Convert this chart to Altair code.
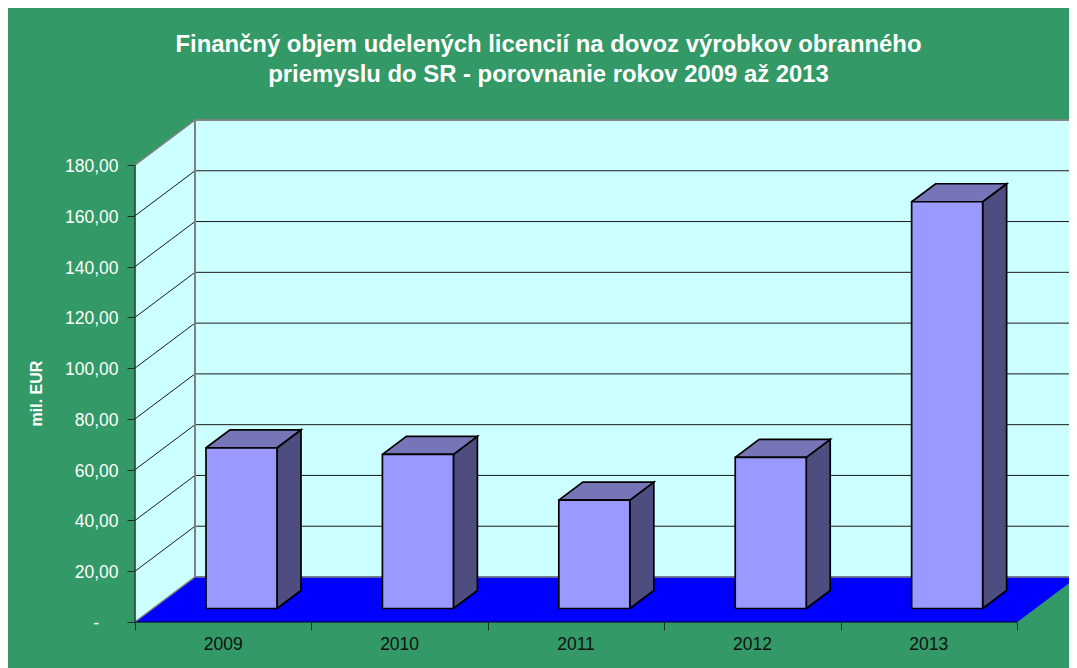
import altair as alt
import pandas as pd

years = ["2009", "2010", "2011", "2012", "2013"]
values = [63.3, 60.7, 42.7, 59.5, 160.2]
tick_values = [0, 20, 40, 60, 80, 100, 120, 140, 160, 180]
title_lines = ["Finančný objem udelených licencií na dovoz výrobkov obranného",
               "priemyslu do SR - porovnanie rokov 2009 až 2013"]
axis_title = "mil. EUR"

# Oblique projection of the 3D box, in data units
WALL_DX, WALL_DY = 0.34, 17.72
BAR_DX, BAR_DY = 0.136, 7.09
BAR_X0, BAR_W, BAR_BASE = 0.4025, 0.4025, 5.32
N = len(years)
X_END = N + WALL_DX - 0.0454   # the page cuts the last few pixels of the wall

x_scale = alt.Scale(domain=[0, X_END], nice=False, zero=False)
y_scale = alt.Scale(domain=[0, 180 + WALL_DY], nice=False, zero=False)
X = alt.X("x:Q", scale=x_scale, axis=alt.Axis(
    values=list(range(N + 1)), labels=False, title=None, domain=False, grid=False,
    tickColor="#103020", tickSize=8, tickWidth=1))
Y = alt.Y("y:Q", scale=y_scale, axis=alt.Axis(
    values=tick_values, title=axis_title, domain=False, grid=False,
    tickColor="#103020", tickSize=8, tickWidth=1,
    labelColor="white", labelFont="Liberation Sans", labelFontSize=17.5, labelPadding=9, labelOffset=1.5,
    labelExpr="datum.value == 0 ? '-\u00a0\u00a0\u00a0\u00a0\u200b' : replace(format(datum.value, '.2f'), '.', ',')",
    titleColor="white", titleFont="Liberation Sans", titleFontSize=16, titleFontWeight="bold",
    titleX=-91, titleY=273, titleAngle=270))


def poly(key, pts):
    return [dict(key=key, o=i, x=a, y=b) for i, (a, b) in enumerate(list(pts) + [pts[0]])]


def shape(rows, fill, stroke, sw):
    return alt.Chart(pd.DataFrame(rows)).mark_line(
        fill=fill, stroke=stroke, strokeWidth=sw, interpolate="linear", strokeJoin="miter"
    ).encode(x=X, y=Y, detail="key:N", order="o:Q")


def lines(rows, color, sw):
    return alt.Chart(pd.DataFrame(rows)).mark_line(
        color=color, strokeWidth=sw, interpolate="linear"
    ).encode(x=X, y=Y, detail="key:N", order="o:Q")


back_wall = shape(poly("w", [(WALL_DX, WALL_DY), (N + WALL_DX, WALL_DY),
                             (N + WALL_DX, 180 + WALL_DY), (WALL_DX, 180 + WALL_DY)]),
                  "#CCFFFF", "#808080", 1.5)
side_wall = shape(poly("s", [(0, 0), (WALL_DX, WALL_DY), (WALL_DX, 180 + WALL_DY), (0, 180)]),
                  "#CCFFFF", "#808080", 1)
floor = shape(poly("f", [(0, 0), (N, 0), (N + WALL_DX, WALL_DY), (WALL_DX, WALL_DY)]),
              "#0000FF", "#0000FF", 0.5)

grid_rows, edge_rows = [], []
for t in tick_values:
    pts = [(0, t), (WALL_DX, t + WALL_DY), (N + WALL_DX, t + WALL_DY)]
    target = edge_rows if t in (0, 180) else grid_rows
    target += [dict(key=t, o=i, x=a, y=b) for i, (a, b) in enumerate(pts)]
grid = lines(grid_rows, "#1a1a1a", 1)
edges = lines(edge_rows, "#808080", 1.5)
corner = lines([dict(key="c", o=0, x=WALL_DX, y=WALL_DY), dict(key="c", o=1, x=WALL_DX, y=180 + WALL_DY)],
               "#808080", 2)
y_line = lines([dict(key="y", o=0, x=0, y=0), dict(key="y", o=1, x=0, y=180)], "#103020", 1.2)
x_line = lines([dict(key="x", o=0, x=0, y=0), dict(key="x", o=1, x=N, y=0)], "#101010", 1.2)

fronts, tops, sides = [], [], []
for i, (yr, v) in enumerate(zip(years, values)):
    x0 = i + BAR_X0
    x1 = x0 + BAR_W
    top = BAR_BASE + v
    fronts += poly(yr, [(x0, BAR_BASE), (x1, BAR_BASE), (x1, top), (x0, top)])
    tops += poly(yr, [(x0, top), (x1, top), (x1 + BAR_DX, top + BAR_DY), (x0 + BAR_DX, top + BAR_DY)])
    sides += poly(yr, [(x1, BAR_BASE), (x1 + BAR_DX, BAR_BASE + BAR_DY), (x1 + BAR_DX, top + BAR_DY), (x1, top)])

side_faces = shape(sides, "#4D4D80", "black", 1.7)
top_faces = shape(tops, "#7575B8", "black", 1.7)
front_faces = shape(fronts, "#9999FF", "black", 1.7)

year_labels = alt.Chart(pd.DataFrame({"x": [i + 0.5 for i in range(N)], "y": [0] * N, "t": years})).mark_text(
    font="Liberation Sans", fontSize=17.5, color="#111111", baseline="middle", dy=23
).encode(x=X, y=Y, text="t:N")

chart = alt.layer(
    back_wall, side_wall, floor, grid, edges, corner, y_line, x_line,
    side_faces, top_faces, front_faces, year_labels,
).properties(
    width=934,
    height=502,
    background="#339966",
    padding={"left": 127, "top": 112, "right": 0, "bottom": 46},
    autosize=alt.AutoSizeParams(type="none"),
    title=alt.TitleParams(
        text=title_lines, anchor="middle", dx=-53.5, offset=29, lineHeight=30,
        font="Liberation Sans", fontSize=23.85, fontWeight="bold", color="white",
    ),
).configure_view(stroke=None)

chart.save("out.html", embed_options={"renderer": "svg", "actions": False})
